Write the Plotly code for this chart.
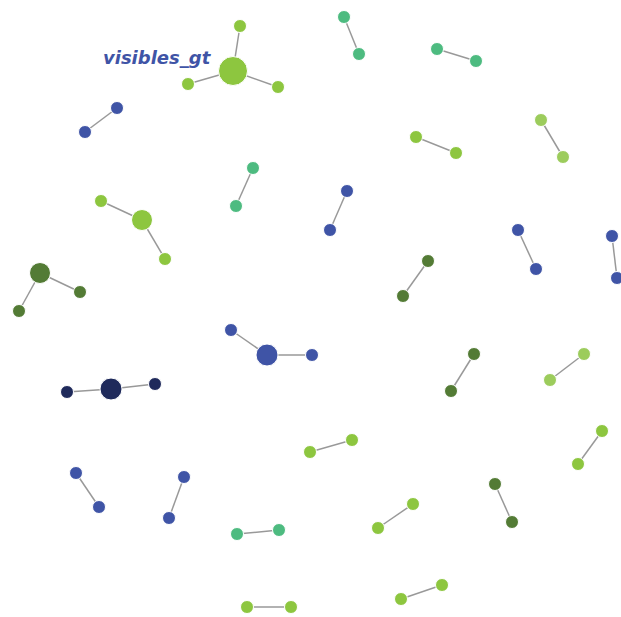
import plotly.graph_objects as go

# node positions (pixel space, y down)
node_x = [233, 240, 188, 278, 344, 359, 437, 476, 117, 85, 416, 456, 541, 563,
          253, 236, 347, 330, 142, 101, 165, 518, 536, 612, 617, 428, 403,
          40, 80, 19, 267, 231, 312, 111, 67, 155, 474, 451, 584, 550,
          352, 310, 602, 578, 76, 99, 184, 169, 495, 512, 413, 378,
          279, 237, 247, 291, 442, 401]
node_y = [71, 26, 84, 87, 17, 54, 49, 61, 108, 132, 137, 153, 120, 157,
          168, 206, 191, 230, 220, 201, 259, 230, 269, 236, 278, 261, 296,
          273, 292, 311, 355, 330, 355, 389, 392, 384, 354, 391, 354, 380,
          440, 452, 431, 464, 473, 507, 477, 518, 484, 522, 504, 528,
          530, 534, 607, 607, 585, 599]
node_size = [29, 13, 13, 13, 13, 13, 13, 13, 13, 13, 13, 13, 13, 13,
             13, 13, 13, 13, 21, 13, 13, 13, 13, 13, 13, 13, 13,
             21, 13, 13, 22, 13, 13, 22, 13, 13, 13, 13, 13, 13,
             13, 13, 13, 13, 13, 13, 13, 13, 13, 13, 13, 13,
             13, 13, 13, 13, 13, 13]
node_group = ["green", "green", "green", "green", "teal", "teal", "teal", "teal",
              "blue", "blue", "green", "green", "lightgreen", "lightgreen",
              "teal", "teal", "blue", "blue", "green", "green", "green",
              "blue", "blue", "blue", "blue", "darkgreen", "darkgreen",
              "darkgreen", "darkgreen", "darkgreen", "blue", "blue", "blue",
              "navy", "navy", "navy", "darkgreen", "darkgreen",
              "lightgreen", "lightgreen", "green", "green", "green", "green",
              "blue", "blue", "blue", "blue", "darkgreen", "darkgreen",
              "green", "green", "teal", "teal", "green", "green", "green", "green"]
edges = [(0, 1), (0, 2), (0, 3), (4, 5), (6, 7), (8, 9), (10, 11), (12, 13),
         (14, 15), (16, 17), (18, 19), (18, 20), (21, 22), (23, 24), (25, 26),
         (27, 28), (27, 29), (30, 31), (30, 32), (33, 34), (33, 35), (36, 37),
         (38, 39), (40, 41), (42, 43), (44, 45), (46, 47), (48, 49), (50, 51),
         (52, 53), (54, 55), (56, 57)]

label_text = "visibles_gt"
label_x, label_y = 157, 57

COLORS = {
    "green": "#8dc63f",
    "lightgreen": "#9ccc5c",
    "teal": "#4dbb80",
    "darkgreen": "#537b35",
    "blue": "#3f54a6",
    "navy": "#1f2a5b",
}

W, H = 621, 617

edge_x, edge_y = [], []
for a, b in edges:
    edge_x += [node_x[a], node_x[b], None]
    edge_y += [node_y[a], node_y[b], None]

fig = go.Figure()
fig.add_trace(go.Scatter(
    x=edge_x, y=edge_y, mode="lines",
    line=dict(color="#999999", width=1.5),
    hoverinfo="skip",
    cliponaxis=False,
))
fig.add_trace(go.Scatter(
    x=node_x, y=node_y, mode="markers",
    marker=dict(
        size=node_size,
        color=[COLORS[g] for g in node_group],
        line=dict(color="white", width=1),
        opacity=1,
    ),
    cliponaxis=False,
))
fig.add_annotation(
    x=label_x, y=label_y, text=f"<b><i>{label_text}</i></b>",
    showarrow=False,
    font=dict(family="DejaVu Sans", size=18, color="#3f54a6"),
)
fig.update_xaxes(range=[0, W], visible=False, fixedrange=True)
fig.update_yaxes(range=[H, 0], visible=False, fixedrange=True)
fig.update_layout(
    width=W, height=H,
    margin=dict(l=0, r=0, t=0, b=0),
    showlegend=False,
    plot_bgcolor="white", paper_bgcolor="white",
)
# drop the default 8px body margin so the figure fills the window
fig.write_html(
    "out.html",
    config={"displayModeBar": False},
    post_script="document.body.style.margin='0';document.body.style.overflow='hidden';",
)
